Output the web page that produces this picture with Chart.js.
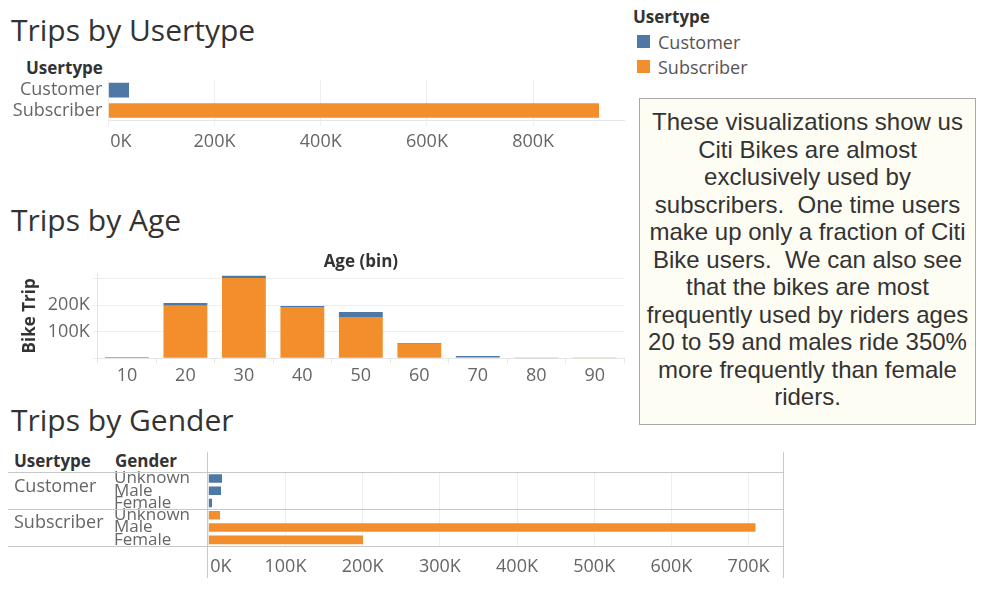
<!DOCTYPE html>
<html>
<head>
<meta charset="utf-8">
<script src="https://cdn.jsdelivr.net/npm/chart.js@4.4.1/dist/chart.umd.min.js"></script>
<style>
html,body{margin:0;padding:0;background:#fff;}
body{width:987px;height:592px;position:relative;overflow:hidden;font-family:'Open Sans',sans-serif;color:#333;}
.abs{position:absolute;white-space:nowrap;}
.title{font-size:30px;line-height:36px;color:#333;}
.hdr{font-size:17px;font-weight:bold;line-height:22px;color:#333;}
.lg{font-size:18px;line-height:24px;color:#555;}
.sw{position:absolute;width:13px;height:13px;}
#note{position:absolute;left:639px;top:98px;width:337px;height:327px;box-sizing:border-box;border:1px solid #a8a8a8;background:#fefdf3;font-family:'Liberation Sans',Arial,sans-serif;font-size:24px;line-height:27.5px;text-align:center;color:#333;padding-top:9px;white-space:nowrap;}
canvas{position:absolute;}
</style>
</head>
<body>
<div class="abs title" style="left:11px;top:12px;">Trips by Usertype</div>
<div class="abs title" style="left:11px;top:202px;">Trips by Age</div>
<div class="abs title" style="left:11px;top:402px;">Trips by Gender</div>

<div class="abs hdr" style="left:633px;top:6px;">Usertype</div>
<div class="sw" style="left:637px;top:35px;background:#4e79a7;"></div>
<div class="abs lg" style="left:658px;top:29.5px;">Customer</div>
<div class="sw" style="left:637px;top:60px;background:#f28e2b;"></div>
<div class="abs lg" style="left:658px;top:54.5px;">Subscriber</div>

<div id="note">These visualizations show us<br>Citi Bikes are almost<br>exclusively used by<br>subscribers.&nbsp; One time users<br>make up only a fraction of Citi<br>Bike users.&nbsp; We can also see<br>that the bikes are most<br>frequently used by riders ages<br>20 to 59 and males ride 350%<br>more frequently than female<br>riders.</div>

<div class="abs hdr" style="left:26px;top:56.5px;">Usertype</div>
<canvas id="c1" width="640" height="90" style="left:0;top:70px;"></canvas>

<canvas id="c2" width="640" height="140" style="left:0;top:245px;"></canvas>

<div class="abs hdr" style="left:14px;top:449.5px;">Usertype</div>
<div class="abs hdr" style="left:115px;top:449.5px;">Gender</div>
<canvas id="c3" width="790" height="140" style="left:0;top:445px;"></canvas>

<script>
// ---- data ----
const userTypes = ['Customer', 'Subscriber'];
const tripsByUsertype = [39000, 924000];
const usertypeTicks = [0, 200000, 400000, 600000, 800000];

const ageBins = ['10', '20', '30', '40', '50', '60', '70', '80', '90'];
const customerByAge = [2000, 10500, 8500, 3500, 18500, 3000, 3500, 300, 100];
const subscriberByAge = [800, 198000, 303000, 193500, 156000, 54500, 5000, 600, 100];
const ageTicks = [0, 100000, 200000, 300000];
const ageTicksLabelled = [100000, 200000];

const genders = ['Unknown', 'Male', 'Female'];
const customerByGender = [17800, 16500, 4800];
const subscriberByGender = [15200, 709000, 200500];
const genderTicks = [0, 100000, 200000, 300000, 400000, 500000, 600000, 700000];

// ---- styling ----
const BLUE = '#4e79a7', ORANGE = '#f28e2b';
const colorOf = u => (u === 'Customer' ? BLUE : ORANGE);
const fmtK = v => (v / 1000) + 'K';
const setTicks = list => s => { s.ticks = list.map(v => ({ value: v })); };
const noPadX = h => s => { if (h != null) s.height = h; s.paddingLeft = 0; s.paddingRight = 0; };
const noPadY = w => s => { if (w != null) s.width = w; s.paddingTop = 0; s.paddingBottom = 0; };

Chart.defaults.font.family = "'Open Sans', sans-serif";
Chart.defaults.color = '#666';

const firstTickLeft = {
  id: 'firstTickLeft',
  afterUpdate(chart) {
    const s = chart.scales.x;
    if (!s || s._ftlPatched || typeof s._computeLabelItems !== 'function') return;
    const orig = s._computeLabelItems;
    s._computeLabelItems = function (ca) {
      const items = orig.call(this, ca);
      if (items && items[0] && items[0].options && items[0].options.translation) {
        items[0].options.textAlign = 'left';
        items[0].options.translation[0] = this.left + 2;
      }
      return items;
    };
    s._ftlPatched = true;
  }
};

const base = {
  responsive: false,
  animation: false,
  devicePixelRatio: 1,
  events: [],
  plugins: { legend: { display: false }, tooltip: { enabled: false } }
};

// ---- chart 1: trips by usertype ----
new Chart(document.getElementById('c1'), {
  type: 'bar',
  data: {
    labels: userTypes,
    datasets: [{
      data: tripsByUsertype,
      backgroundColor: userTypes.map(colorOf),
      barPercentage: 0.72,
      categoryPercentage: 1
    }]
  },
  options: Object.assign({}, base, {
    indexAxis: 'y',
    layout: { padding: { left: 0, top: 10, right: 16, bottom: 0 } },
    scales: {
      x: {
        type: 'linear', min: 0, max: 971000,
        afterBuildTicks: setTicks(usertypeTicks),
        afterFit: noPadX(39.4),
        grid: { color: '#eeeeee', tickLength: 5 },
        border: { display: true, color: '#e6e6e6' },
        ticks: { padding: 5, font: { size: 18 }, callback: fmtK, maxRotation: 0 }
      },
      y: {
        afterFit: noPadY(108.3),
        grid: { display: false, drawTicks: false },
        border: { display: false },
        ticks: { padding: 6, font: { size: 18 }, autoSkip: false }
      }
    }
  }),
  plugins: [firstTickLeft]
});

// ---- chart 2: trips by age ----
new Chart(document.getElementById('c2'), {
  type: 'bar',
  data: {
    labels: ageBins,
    datasets: [
      { label: 'Subscriber', data: subscriberByAge, backgroundColor: ORANGE, barPercentage: 0.75, categoryPercentage: 1 },
      { label: 'Customer', data: customerByAge, backgroundColor: BLUE, barPercentage: 0.75, categoryPercentage: 1 }
    ]
  },
  options: Object.assign({}, base, {
    layout: { padding: { left: 0, top: 0, right: 16, bottom: 0 } },
    scales: {
      x: {
        stacked: true,
        afterFit: noPadX(26.7),
        grid: { drawOnChartArea: false, drawTicks: true, tickLength: 5, color: '#e6e6e6' },
        border: { display: true, color: '#e6e6e6' },
        ticks: { padding: 1.5, font: { size: 18 }, autoSkip: false, maxRotation: 0 }
      },
      xTop: {
        type: 'category', position: 'top', axis: 'x',
        afterFit: noPadX(28.5),
        grid: { display: false, drawTicks: false },
        border: { display: false },
        ticks: { display: false },
        title: { display: true, text: 'Age (bin)', color: '#333', font: { size: 17, weight: 'bold' }, padding: { top: 6.8, bottom: 0 } }
      },
      y: {
        stacked: true, min: 0, max: 320000,
        afterBuildTicks: setTicks(ageTicks),
        afterFit: noPadY(97.7),
        grid: { color: '#eeeeee', tickLength: 5 },
        border: { display: true, color: '#e6e6e6' },
        ticks: { padding: 3, font: { size: 18 },
                 callback: v => ageTicksLabelled.includes(v) ? fmtK(v) : '' },
        title: { display: true, text: 'Bike Trip', color: '#333', font: { size: 17, weight: 'bold' }, padding: { top: 19.8, bottom: 0 } }
      }
    }
  })
});

// ---- chart 3: trips by gender ----
const genderRows = userTypes.flatMap(() => genders);
const genderTable = {
  id: 'genderTable',
  beforeDatasetsDraw(chart) {
    const { ctx, chartArea: a, scales: { y } } = chart;
    const half = (y.getPixelForValue(1) - y.getPixelForValue(0)) / 2;
    ctx.save();
    ctx.strokeStyle = '#c8c8c8';
    ctx.lineWidth = 1;
    const hline = yy => { const p = Math.round(yy) + 0.5; ctx.beginPath(); ctx.moveTo(8, p); ctx.lineTo(a.right, p); ctx.stroke(); };
    const vline = xx => { const p = Math.round(xx) - 0.5; ctx.beginPath(); ctx.moveTo(p, 7); ctx.lineTo(p, 133); ctx.stroke(); };
    hline(y.getPixelForValue(0) - half);
    userTypes.forEach((u, gi) => hline(y.getPixelForValue(gi * genders.length + genders.length - 1) + half));
    vline(a.left);
    vline(a.right + 1);
    ctx.fillStyle = '#666';
    ctx.font = "18px 'Open Sans', sans-serif";
    ctx.textBaseline = 'middle';
    ctx.textAlign = 'left';
    userTypes.forEach((u, gi) => {
      const top = y.getPixelForValue(gi * genders.length) - half;
      ctx.fillText(u, 14, top + 14.2);
    });
    ctx.restore();
  }
};

new Chart(document.getElementById('c3'), {
  type: 'bar',
  data: {
    labels: genderRows,
    datasets: userTypes.map((u, gi) => ({
      label: u,
      data: userTypes.flatMap((v, gj) => gj === gi ? (u === 'Customer' ? customerByGender : subscriberByGender) : genders.map(() => null)),
      backgroundColor: colorOf(u),
      barPercentage: 0.7,
      categoryPercentage: 1
    }))
  },
  options: Object.assign({}, base, {
    indexAxis: 'y',
    layout: { padding: { left: 114, top: 27.3, right: 6.7, bottom: 0 } },
    scales: {
      x: {
        stacked: true, type: 'linear', min: 0, max: 745000,
        afterBuildTicks: setTicks(genderTicks),
        afterFit: noPadX(39),
        grid: { color: '#efefef', drawTicks: false },
        border: { display: false },
        ticks: { padding: 10.2, font: { size: 18 }, callback: fmtK, maxRotation: 0 }
      },
      y: {
        stacked: true,
        afterFit: noPadY(94.3),
        grid: { display: false },
        border: { display: false },
        ticks: { crossAlign: 'far', autoSkip: false, font: { size: 17 }, padding: 0 }
      }
    }
  }),
  plugins: [firstTickLeft, genderTable]
});
</script>
</body>
</html>
